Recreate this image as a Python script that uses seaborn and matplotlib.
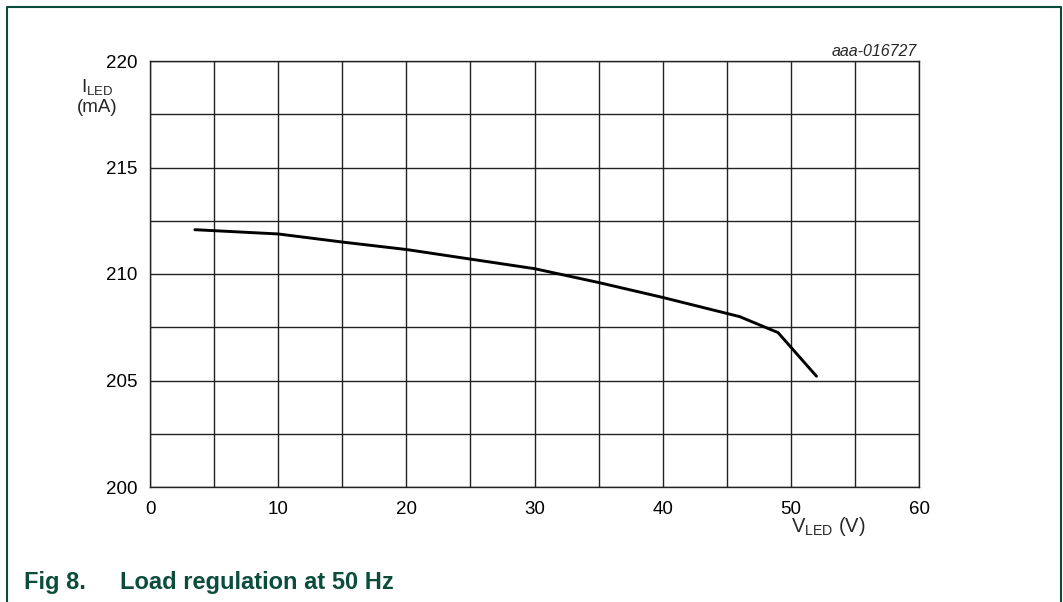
import matplotlib
matplotlib.use("Agg")
import matplotlib.pyplot as plt
import seaborn as sns
import pandas as pd
from matplotlib.lines import Line2D

v_led = [3.5, 10, 15, 20, 25, 30, 35, 40, 46, 49, 52]
i_led = [212.08, 211.88, 211.5, 211.15, 210.7, 210.25, 209.6, 208.9, 208.0, 207.25, 205.2]
x_ticks = [0, 10, 20, 30, 40, 50, 60]
y_ticks = [200, 205, 210, 215, 220]

sns.set_theme(style="white")
plt.rcParams['font.family'] = ['Liberation Sans', 'DejaVu Sans']
plt.rcParams['mathtext.fontset'] = 'custom'
plt.rcParams['mathtext.rm'] = 'Liberation Sans'

W, H = 1063, 602
fig = plt.figure(figsize=(W / 100, H / 100), dpi=100)
ax = fig.add_axes([150 / W, 1 - 487 / H, (919 - 150) / W, (487 - 61) / H])

df = pd.DataFrame({"V": v_led, "I": i_led})
sns.lineplot(data=df, x="V", y="I", ax=ax, color="black", linewidth=2.1, sort=False)

ax.set_xlim(0, 60)
ax.set_ylim(200, 220)
ax.set_xticks(x_ticks)
ax.set_yticks(y_ticks)
ax.set_xticks([x + 5 for x in x_ticks[:-1]], minor=True)
ax.set_yticks([y + 2.5 for y in y_ticks[:-1]], minor=True)
ax.grid(True, which="both", color="#222222", linewidth=1.0)
ax.tick_params(which="both", length=0, labelsize=13.5, colors="black")
ax.tick_params(axis="x", pad=10)
ax.tick_params(axis="y", pad=9)
ax.set_xlabel("")
ax.set_ylabel("")
for s in ax.spines.values():
    s.set_color("#222222")
    s.set_linewidth(1.0)

fig.text(97 / W, 1 - 92 / H, r"$\mathregular{I_{LED}}$", ha="center", va="baseline", fontsize=13.5)
fig.text(97 / W, 1 - 112 / H, "(mA)", ha="center", va="baseline", fontsize=13.5)
fig.text(828 / W, 1 - 532 / H, r"$\mathregular{V_{LED}}$ (V)", ha="center", va="baseline", fontsize=14.5)
fig.text(917 / W, 1 - 56 / H, "aaa-016727", ha="right", va="baseline", fontsize=11.5, style="italic")
fig.text(24 / W, 1 - 589 / H, "Fig 8.", ha="left", va="baseline", fontsize=17,
         fontweight="bold", color="#0b4d3c")
fig.text(120 / W, 1 - 589 / H, "Load regulation at 50 Hz", ha="left", va="baseline", fontsize=17,
         fontweight="bold", color="#0b4d3c")

frame = Line2D([7 / W, 7 / W, 1061 / W, 1061 / W], [0, 1 - 7 / H, 1 - 7 / H, 0],
               transform=fig.transFigure, color="#0b4d3c", linewidth=1.5)
fig.add_artist(frame)

fig.savefig("out.png", dpi=100)
